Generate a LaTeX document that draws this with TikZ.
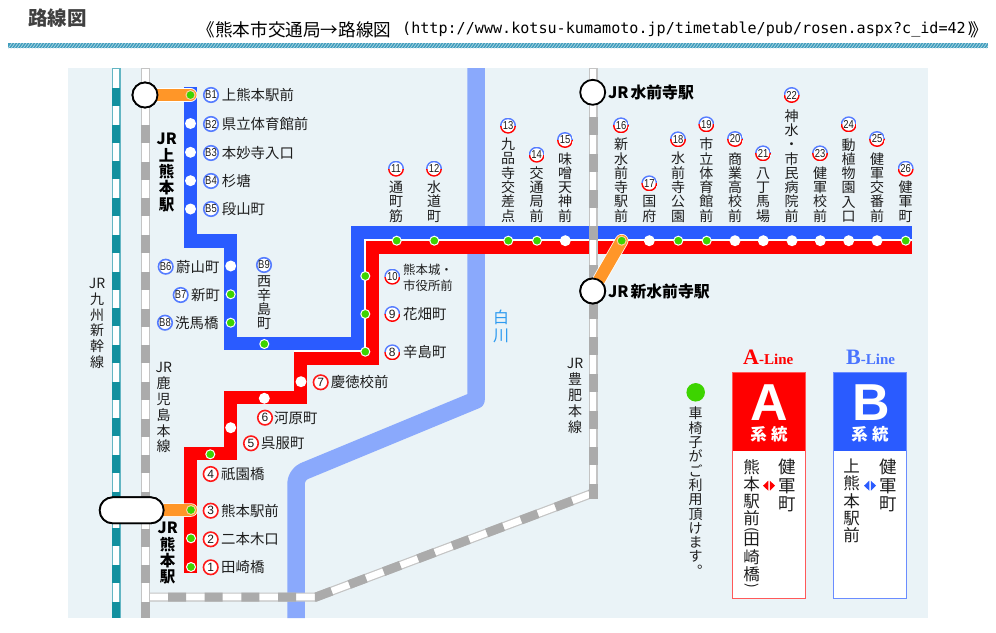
\documentclass[tikz,border=0pt]{standalone}
\usepackage{fontspec}
\usetikzlibrary{shapes.misc}
\setmainfont{Noto Sans CJK JP}
\newfontfamily\numfont{Liberation Sans}
\newfontfamily\numc[FakeStretch=0.82]{Liberation Sans}
\newfontfamily\headfont{Liberation Serif}
\newfontfamily\urlfont{DejaVu Sans Mono}
\definecolor{bgc}{HTML}{EAF3F7}
\definecolor{river}{HTML}{8AA9FC}
\definecolor{lineA}{HTML}{FF0000}
\definecolor{lineB}{HTML}{2A5BFF}
\definecolor{okgreen}{HTML}{3DD400}
\definecolor{orangec}{HTML}{FF9628}
\definecolor{railg}{HTML}{ABABAB}
\definecolor{railb}{HTML}{C4C4C4}
\definecolor{teal1}{HTML}{12909F}
\definecolor{teal2}{HTML}{62B5C3}
\definecolor{barc}{HTML}{3F9DBD}
\definecolor{txt}{HTML}{1E1E1E}
\definecolor{rivertxt}{HTML}{2E9BF0}
\tikzset{
  stopw/.style={circle,fill=white,inner sep=0pt,minimum size=11pt},
  stopg/.style={circle,fill=okgreen,draw=white,line width=1pt,inner sep=0pt,minimum size=9pt},
  stopo/.style={circle,fill=okgreen,draw=orangec!45!white,line width=1pt,inner sep=0pt,minimum size=9pt},
  badge/.style={circle,fill=white,inner sep=0pt,minimum size=14.5pt,line width=1.6pt,font=\numc\fontsize{11.5}{11.5}\selectfont,text=txt},
  badgeA/.style={badge,draw=lineA!90!white,font=\numfont\fontsize{12}{12}\selectfont},
  badgeB/.style={badge,draw=lineB!80!white},
  badgeAB/.style={badge,minimum size=16pt,path picture={
      \fill[lineB!80!white] (path picture bounding box.north west) rectangle (path picture bounding box.east);
      \fill[lineA] (path picture bounding box.south west) rectangle (path picture bounding box.east);
      \fill[white] (path picture bounding box.center) circle (6.4pt);}},
  lab/.style={anchor=west,inner sep=0pt,text=txt,font=\fontsize{14.4}{14.4}\selectfont},
  vt/.style={align=center,inner sep=0pt,text=txt,font=\fontsize{14}{14.3}\selectfont},
  vtb/.style={align=center,inner sep=0pt,text=black,font=\bfseries\fontsize{15.5}{16.4}\selectfont},
  vts/.style={align=center,inner sep=0pt,text=txt,font=\fontsize{14}{15.8}\selectfont},
  vtl/.style={align=center,inner sep=0pt,text=txt,font=\fontsize{17.5}{18.3}\selectfont},
  vtm/.style={align=center,inner sep=0pt,text=txt,font=\fontsize{16.5}{17.1}\selectfont},
  jrc/.style={circle,draw=black,fill=white,line width=1.8pt,inner sep=0pt,minimum size=25pt},
  jrl/.style={anchor=west,inner sep=0pt,text=black,font=\bfseries\fontsize{15.8}{16}\selectfont},
  orangeline/.style={orangec,line width=12pt,line cap=round},
  boxA/.style={draw=lineA!65!white,line width=1.5pt,fill=white},
  boxB/.style={draw=lineB!70!white,line width=1.5pt,fill=white},
}
\begin{document}
\begin{tikzpicture}[x=1pt,y=-1pt]
\path[use as bounding box,fill=white] (0,0) rectangle (996,632);
% header
\node[anchor=west,inner sep=0pt,text=black!75,font=\bfseries\fontsize{19.5}{20}\selectfont] (head) at (28,18) {路線図};
\node[anchor=west,inner sep=0pt,text=black,font=\fontsize{17.6}{18}\selectfont] (ttl) at (197.5,30) {《熊本市交通局→路線図};
\node[anchor=west,inner sep=0pt,text=black,font=\urlfont\fontsize{15.1}{16}\selectfont] (url) at (402,30) {(http://www.kotsu-kumamoto.jp/timetable/pub/rosen.aspx?c\_id=42)};
\node[anchor=west,inner sep=0pt,text=black,font=\fontsize{17.6}{18}\selectfont] (ttr) at (970,30) {》};
\fill[barc] (8,43.3) rectangle (988,48.3);
\begin{scope}
\clip (8,43.3) rectangle (988,48.3);
\foreach \i in {8,11,...,990} \draw[white!60!barc,line width=.7pt] (\i,48.5) -- (\i+4,43);
\end{scope}
% background
\fill[bgc] (68,68) rectangle (928,618);
% river
\draw[river,line width=17.5pt,line join=round] (476,68) -- (476,400) [rounded corners=9pt] -- (296,474.5) -- (296,618);
% rails
\draw[teal2,line width=9pt] (116,68) -- (116,618);
\draw[white,line width=6.2pt] (116,68.8) -- (116,618);
\draw[teal1,line width=8pt,dash pattern=on 18pt off 18.7pt] (116,88) -- (116,618);
\draw[railb,line width=9pt] (145.5,68) -- (145.5,618);
\draw[white,line width=6.6pt] (145.5,68.8) -- (145.5,618);
\draw[railg,line width=9pt,dash pattern=on 18pt off 18.7pt] (145.5,125) -- (145.5,618);
\coordinate (r0) at (150,597);
\coordinate (r1) at (316,597);
\coordinate (r2) at (593,493);
\coordinate (r3) at (593,68);
\coordinate (r4) at (593,499);
\draw[railb,line width=9pt] (r0) -- (r1) -- (r2);
\draw[railb,line width=9pt] (r4) -- (r3);
\draw[white,line width=6.6pt] (r0) -- (r1) -- (r2);
\draw[white,line width=6.6pt] (593,497) -- (593,68.8);
\draw[railg,line width=9pt,dash pattern=on 18pt off 18.7pt,dash phase=18.7pt] (r0) -- (r1) -- (r2);
\draw[railg,line width=9pt,dash pattern=on 18pt off 18.7pt] (593,117) -- (r4);
% blue line
\coordinate (b0) at (190.5,87);
\coordinate (b1) at (190.5,241);
\coordinate (b2) at (230.7,241);
\coordinate (b3) at (230.7,343.3);
\coordinate (b4) at (357.7,343.3);
\coordinate (b5) at (357.7,232.7);
\coordinate (b6) at (911.7,232.7);
\draw[lineB,line width=13.3pt] (b0) -- (b1) -- (b2) -- (b3) -- (b4) -- (b5) -- (b6);
% red line
\coordinate (a0) at (190.5,572.7);
\coordinate (a1) at (190.5,453.5);
\coordinate (a2) at (230.5,453.5);
\coordinate (a3) at (230.5,397.3);
\coordinate (a4) at (300.7,397.3);
\coordinate (a5) at (300.7,358.3);
\coordinate (a6) at (372.3,358.3);
\coordinate (a7) at (372.3,247.3);
\coordinate (a8) at (911.7,247.3);
\draw[white,line width=1.5pt] (294,350.9) -- (365,350.9) -- (365,240) -- (911.7,240);
\draw[lineA,line width=13.3pt] (a0) -- (a1) -- (a2) -- (a3) -- (a4) -- (a5) -- (a6) -- (a7) -- (a8);
% rail over the lines at Suizenji
\fill[railb] (588.5,226) rectangle (597.5,265);
\fill[white] (589.7,226) rectangle (596.3,265);
\fill[railg] (588.5,226) rectangle (597.5,240);
% stops of line B
\node[stopg] (s1) at (190.5,95) {};
\node[stopw] (s2) at (190.5,123.5) {};
\node[stopw] (s3) at (190.5,152.3) {};
\node[stopw] (s4) at (190.5,180.7) {};
\node[stopw] (s5) at (190.5,209) {};
\node[stopw] (s6) at (230.7,266) {};
\node[stopg] (s7) at (230.7,294.3) {};
\node[stopg] (s8) at (230.7,322.7) {};
\node[stopg] (s9) at (264.3,344) {};
% stops of line A
\node[stopg] (t1) at (191,567) {};
\node[stopg] (t2) at (191,538.3) {};
\node[stopg] (t3base) at (191,510) {};
\node[stopg] (t4) at (210.3,454.3) {};
\node[stopw] (t5) at (230.7,427.7) {};
\node[stopw] (t6) at (264.3,398.3) {};
\node[stopw] (t7) at (301,381.7) {};
\node[stopg] (t8) at (365.3,351.7) {};
\node[stopg] (t9) at (365.3,314) {};
\node[stopg] (t10) at (365.3,276) {};
\node[stopg] (t11) at (396.7,240.7) {};
\node[stopg] (t12) at (434.3,240.7) {};
\node[stopg] (t13) at (508.3,240.7) {};
\node[stopg] (t14) at (537,240.7) {};
\node[stopw] (t15) at (565.3,240.7) {};
\node[stopg] (t16base) at (621.7,240.7) {};
\node[stopw] (t17) at (649.3,240.7) {};
\node[stopg] (t18) at (678.3,240.7) {};
\node[stopg] (t19) at (706.7,240.7) {};
\node[stopw] (t20) at (735,240.7) {};
\node[stopw] (t21) at (763.3,240.7) {};
\node[stopw] (t22) at (792,240.7) {};
\node[stopw] (t23) at (820.3,240.7) {};
\node[stopw] (t24) at (848.7,240.7) {};
\node[stopw] (t25) at (877,240.7) {};
\node[stopg] (t26) at (905.7,240.7) {};
% JR stations
\node[jrc] (jr1) at (145,95) {};
\node[jrc,rounded rectangle,minimum width=64pt,minimum height=26pt] (jr2) at (131.7,510.3) {};
\node[jrc] (jr3) at (592.7,92.3) {};
\node[jrc] (jr4) at (592.7,291) {};
% orange links
\draw[white,line width=13.5pt,line cap=round] (jr1) -- (s1.center);
\draw[orangeline] (jr1) -- (s1.center);
\draw[white,line width=13.5pt,line cap=round] (jr2) -- (t3base.center);
\draw[orangeline] (jr2) -- (t3base.center);
\draw[white,line width=13.5pt,line cap=round] (jr4) -- (t16base.center);
\draw[orangeline] (jr4) -- (t16base.center);
\node[jrc] at (jr1) {};
\node[jrc,rounded rectangle,minimum width=64pt,minimum height=26pt] at (jr2) {};
\node[jrc] at (jr4) {};
\node[stopo] (s1x) at (s1) {};
\node[stopo] (t3) at (t3base) {};
\node[stopo] (t16) at (t16base) {};
\node[jrl] (l1) at (608,92.5) {JR\hspace{2pt}水前寺駅};
\node[jrl] (l2) at (608,291) {JR\hspace{2pt}新水前寺駅};
\node[vtb,anchor=north] (l3) at (166.7,133) {JR\\上\\熊\\本\\駅};
\node[vtb,anchor=north] (l4) at (167.7,522) {JR\\熊\\本\\駅};
\node[vts,anchor=north] (l5) at (97,278) {JR\\九\\州\\新\\幹\\線};
\node[vts,anchor=north] (l6) at (163.7,362.5) {JR\\鹿\\児\\島\\本\\線};
\node[vts,anchor=north] (l7) at (575,358.5) {JR\\豊\\肥\\本\\線};
\node[align=center,inner sep=0pt,text=rivertxt,font=\fontsize{16}{18}\selectfont,anchor=north] (l8) at (501,310) {白\\川};
% line B labels
\node[badgeB] (bb1) at (211,95) {B1}; \node[lab] (bl1) at (221.7,95) {上熊本駅前};
\node[badgeB] (bb2) at (211,124) {B2}; \node[lab] (bl2) at (221.7,124) {県立体育館前};
\node[badgeB] (bb3) at (211,153) {B3}; \node[lab] (bl3) at (221.7,153) {本妙寺入口};
\node[badgeB] (bb4) at (211,181) {B4}; \node[lab] (bl4) at (221.7,181) {杉塘};
\node[badgeB] (bb5) at (211,209) {B5}; \node[lab] (bl5) at (221.7,209) {段山町};
\node[badgeB] (bb6) at (165.7,266.7) {B6}; \node[lab] (bl6) at (176,266.7) {蔚山町};
\node[badgeB] (bb7) at (180.7,295) {B7}; \node[lab] (bl7) at (191,295) {新町};
\node[badgeB] (bb8) at (165,322.7) {B8}; \node[lab] (bl8) at (175,322.7) {洗馬橋};
\node[badgeB] (bb9) at (264,265) {B9}; \node[vt,anchor=north] (bl9) at (264,275) {西\\辛\\島\\町};
% line A labels
\node[badgeA] (ab1) at (210.7,567.3) {1}; \node[lab] (al1) at (221,567.3) {田崎橋};
\node[badgeA] (ab2) at (210.7,539.3) {2}; \node[lab] (al2) at (221,539.3) {二本木口};
\node[badgeA] (ab3) at (210.7,510.7) {3}; \node[lab] (al3) at (221,510.7) {熊本駅前};
\node[badgeA] (ab4) at (210.7,474) {4}; \node[lab] (al4) at (221,474) {祇園橋};
\node[badgeA] (ab5) at (251,443.3) {5}; \node[lab] (al5) at (261,443.3) {呉服町};
\node[badgeA] (ab6) at (265,417.7) {6}; \node[lab] (al6) at (274,417.7) {河原町};
\node[badgeA] (ab7) at (320.7,382.3) {7}; \node[lab] (al7) at (330.7,382.3) {慶徳校前};
\node[badgeAB,font=\numfont\fontsize{12}{12}\selectfont] (ab8) at (392.3,352.3) {8}; \node[lab] (al8) at (403,352.3) {辛島町};
\node[badgeAB,font=\numfont\fontsize{12}{12}\selectfont] (ab9) at (392.3,314) {9}; \node[lab] (al9) at (403,314) {花畑町};
\node[badgeAB] (ab10) at (392.3,276.7) {10}; \node[lab,align=left,font=\fontsize{12.4}{15.5}\selectfont] (al10) at (403,277.7) {熊本城・\\市役所前};
% labels above the trunk
\def\bot{222.5}
\node[badgeAB] (ab11) at (396,168.7) {11}; \node[vt,anchor=south] (al11) at (396,\bot) {通\\町\\筋};
\node[badgeAB] (ab12) at (434,168.7) {12}; \node[vt,anchor=south] (al12) at (434,\bot) {水\\道\\町};
\node[badgeAB] (ab13) at (508,125.7) {13}; \node[vt,anchor=south] (al13) at (508,\bot) {九\\品\\寺\\交\\差\\点};
\node[badgeAB] (ab14) at (536.7,154.7) {14}; \node[vt,anchor=south] (al14) at (536.7,\bot) {交\\通\\局\\前};
\node[badgeAB] (ab15) at (565,140) {15}; \node[vt,anchor=south] (al15) at (565,\bot) {味\\噌\\天\\神\\前};
\node[badgeAB] (ab16) at (621,125.3) {16}; \node[vt,anchor=south] (al16) at (621,\bot) {新\\水\\前\\寺\\駅\\前};
\node[badgeAB] (ab17) at (649.3,183.3) {17}; \node[vt,anchor=south] (al17) at (649.3,\bot) {国\\府};
\node[badgeAB] (ab18) at (678,139.3) {18}; \node[vt,anchor=south] (al18) at (678,\bot) {水\\前\\寺\\公\\園};
\node[badgeAB] (ab19) at (706.3,124.3) {19}; \node[vt,anchor=south] (al19) at (706.3,\bot) {市\\立\\体\\育\\館\\前};
\node[badgeAB] (ab20) at (735,139) {20}; \node[vt,anchor=south] (al20) at (735,\bot) {商\\業\\高\\校\\前};
\node[badgeAB] (ab21) at (763,153.3) {21}; \node[vt,anchor=south] (al21) at (763,\bot) {八\\丁\\馬\\場};
\node[badgeAB] (ab22) at (791.7,95) {22}; \node[vt,anchor=south] (al22) at (791.7,\bot) {神\\水\\・\\市\\民\\病\\院\\前};
\node[badgeAB] (ab23) at (820,153.3) {23}; \node[vt,anchor=south] (al23) at (820,\bot) {健\\軍\\校\\前};
\node[badgeAB] (ab24) at (848.7,124.3) {24}; \node[vt,anchor=south] (al24) at (848.7,\bot) {動\\植\\物\\園\\入\\口};
\node[badgeAB] (ab25) at (877,139) {25}; \node[vt,anchor=south] (al25) at (877,\bot) {健\\軍\\交\\番\\前};
\node[badgeAB] (ab26) at (905.7,168.7) {26}; \node[vt,anchor=south] (al26) at (905.7,\bot) {健\\軍\\町};
% wheelchair legend
\node[circle,fill=okgreen,inner sep=0pt,minimum size=18.5pt] (wdot) at (695.7,392.3) {};
\node[vt,anchor=north] (wtxt) at (695.7,407) {車\\椅\\子\\が\\ご\\利\\用\\頂\\け\\ま\\す\\︒};
% line legends
\node[anchor=base west,inner sep=0pt,text=lineA,font=\headfont\bfseries\fontsize{15}{15}\selectfont] (ah) at (743,364.5) {{\fontsize{22}{22}\selectfont A}-Line};
\node[anchor=base west,inner sep=0pt,text=lineB!85!white,font=\headfont\bfseries\fontsize{15}{15}\selectfont] (bh) at (846,364.5) {{\fontsize{22}{22}\selectfont B}-Line};
\path[boxA] (732.5,372.5) rectangle (805.5,598.5);
\fill[lineA] (732,372) rectangle (806,451);
\path[boxB] (833.5,372.5) rectangle (906.5,598.5);
\fill[lineB] (833,372) rectangle (907,451);
\draw[lineA!65!white,line width=1.5pt] (732.5,372.5) rectangle (805.5,598.5);
\draw[lineB!70!white,line width=1.5pt] (833.5,372.5) rectangle (906.5,598.5);
\node[anchor=base,inner sep=0pt,text=white,font=\numfont\bfseries\fontsize{52}{52}\selectfont] (abig) at (769,420) {A};
\node[anchor=base,inner sep=0pt,text=white,font=\numfont\bfseries\fontsize{52}{52}\selectfont] (bbig) at (871.5,420) {B};
\node[inner sep=0pt,text=white,font=\bfseries\fontsize{16.5}{16.5}\selectfont] (asys) at (769,434) {系\hspace{4.5pt}統};
\node[inner sep=0pt,text=white,font=\bfseries\fontsize{16.5}{16.5}\selectfont] (bsys) at (870,434) {系\hspace{4.5pt}統};
\node[vtl,anchor=north] (af1) at (787.3,459) {健\\軍\\町};
\node[vtm,anchor=north] (af2) at (751.7,459) {熊\\本\\駅\\前};
\node[inner sep=0pt,rotate=-90,text=txt,font=\fontsize{14}{14}\selectfont] (afo) at (751.7,530) {(};
\node[vtm,anchor=north] (af3) at (751.7,533) {田\\崎\\橋};
\node[inner sep=0pt,rotate=-90,text=txt,font=\fontsize{14}{14}\selectfont] (afc) at (751.7,586) {)};
\node[vtl,anchor=north] (bf1) at (888.3,459) {健\\軍\\町};
\node[vtm,anchor=north] (bf2) at (851.7,459) {上\\熊\\本\\駅\\前};
\fill[lineA] (768.3,480.7) -- (768.3,490.7) -- (763,485.7) -- cycle;
\fill[lineA] (769.9,480.7) -- (769.9,490.7) -- (775,485.7) -- cycle;
\fill[lineB] (869.3,480.7) -- (869.3,490.7) -- (864,485.7) -- cycle;
\fill[lineB] (870.9,480.7) -- (870.9,490.7) -- (876,485.7) -- cycle;
\end{tikzpicture}
\end{document}
